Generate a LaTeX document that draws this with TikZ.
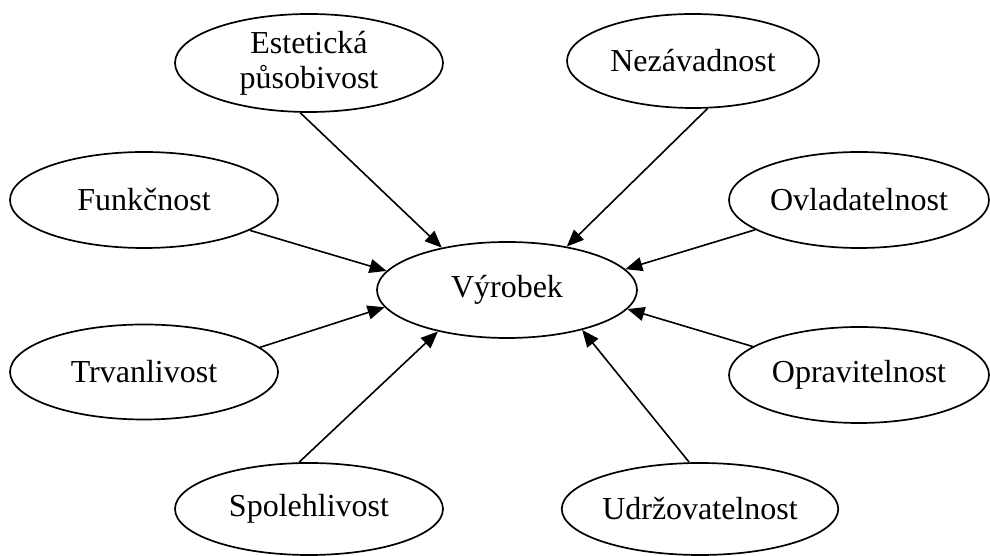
\documentclass[tikz,border=0pt]{standalone}
\usepackage{fontspec}
\setmainfont{Liberation Serif}
\usetikzlibrary{arrows.meta, shapes.geometric}

\begin{document}
\begin{tikzpicture}[
    x=0.5pt, y=0.5pt,
    attr/.style={ellipse, draw=black, line width=0.85pt, inner sep=0pt,
                 minimum width=134pt, minimum height=48pt,
                 font=\fontsize{16}{17.5}\selectfont, align=center},
    link/.style={-{Triangle[length=8.5pt, width=7pt]}, line width=0.8pt},
]
\useasboundingbox (0,0) rectangle (990,556);

\node[attr, minimum width=130pt]                        (VY) at (507,266) {Výrobek};
\node[attr, minimum height=49pt]                        (ES) at (309,493) {Estetická\\působivost};
\node[attr, minimum width=126pt, minimum height=47pt]   (NZ) at (693,495) {Nezávadnost};
\node[attr]                                             (FN) at (144,356) {Funkčnost};
\node[attr, minimum width=130pt]                        (OV) at (859,356) {Ovladatelnost};
\node[attr, minimum height=47.5pt]                      (TR) at (144,184) {Trvanlivost};
\node[attr, minimum width=130pt]                        (OP) at (859,181) {Opravitelnost};
\node[attr, minimum height=46pt]                        (SP) at (309,47)  {Spolehlivost};
\node[attr, minimum width=135pt, minimum height=46pt]   (UD) at (700,47)  {Udržovatelnost};

% upper row
\draw[link] (ES.-100) -- (VY.147);
\draw[link] (NZ.-73)  -- (VY.36);

% middle rows
\draw[link] (FN.-16) -- (VY.171);
\draw[link] (OV.196) -- (VY.10);
\draw[link] (TR.12)  -- (VY.-172);
\draw[link] (OP.165) -- (VY.-9);

% lower row
\draw[link] (SP.102) -- (VY.-149);
\draw[link] (UD.103) -- (VY.-28);

\end{tikzpicture}
\end{document}
